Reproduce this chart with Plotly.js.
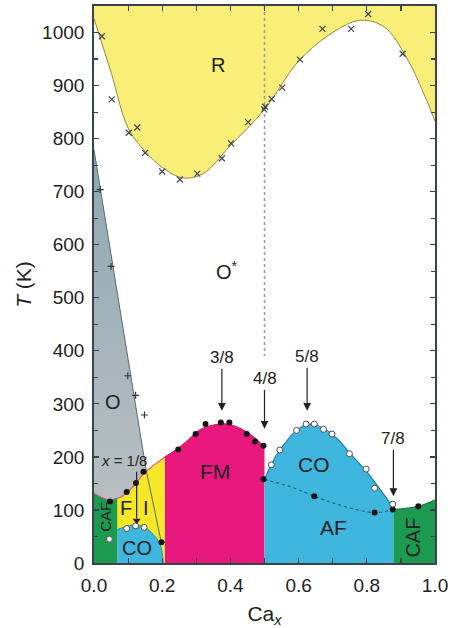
<!DOCTYPE html>
<html>
<head>
<meta charset="utf-8">
<script src="https://cdn.plot.ly/plotly-3.0.1.min.js"></script>
<style>html,body{margin:0;padding:0;background:#fff;}#chart{width:456px;height:628px;}</style>
</head>
<body>
<div id="chart"></div>
<script>
// ---- phase boundaries (Ca fraction x, temperature T in K) ----
const rCurveX = [0, 0.05, 0.1, 0.15, 0.2, 0.26, 0.32, 0.4, 0.5, 0.6, 0.7, 0.78, 0.85, 0.92, 1.0];
const rCurveT = [1026, 925, 820, 776, 746, 726, 734, 787, 855, 946, 1000, 1023, 1011, 949, 833];
const tMax = 1050;

const oRegionX = [0, 0.153, 0.153, 0];
const oRegionT = [779, 175, 110, 110];
const oLineX = [0, 0.153, 0.197];
const oLineT = [779, 175, 40];

const fiTopX = [0, 0.042, 0.07, 0.096, 0.123, 0.145, 0.175, 0.208];
const fiTopT = [131, 119, 122, 132, 150, 168, 184, 200];

const cafLeftX = [0, 0.042, 0.068];
const cafLeftT = [131, 119, 122];

const coLeftX = [0.068, 0.09, 0.12, 0.15, 0.175, 0.192, 0.2, 0.203];
const coLeftT = [63, 68, 72, 67, 53, 38, 20, 0];

const fmX = [0.208, 0.24, 0.272, 0.311, 0.35, 0.389, 0.428, 0.467, 0.5];
const fmT = [200, 213, 229, 251, 260, 262, 254, 238, 218];

const coRightX = [0.5, 0.52, 0.545, 0.594, 0.634, 0.673, 0.72, 0.75, 0.8, 0.84, 0.878];
const coRightT = [158, 186, 213, 250, 262, 254, 230, 207, 172, 138, 104];

const afX = [0.5, 0.575, 0.646, 0.712, 0.823, 0.878];
const afT = [157, 144, 126, 111, 95, 101];

const cafRightX = [0.878, 0.951, 1.0];
const cafRightT = [101, 107, 119];

const halfX = [0.5, 0.5];
const halfT = [1050, 390];

// ---- measured points ----
const crossX = [0.023,0.052,0.102,0.127,0.150,0.200,0.252,0.303,0.375,0.402,0.452,0.499,0.502,0.521,0.552,0.604,0.670,0.754,0.804,0.905];
const crossT = [993,874,811,821,773,738,723,734,763,791,831,855,860,875,896,949,1007,1007,1035,960];
const plusX = [0.018, 0.05, 0.099, 0.122, 0.148];
const plusT = [704, 559, 353, 316, 279];
const dotX = [0.047,0.096,0.123,0.145,0.198,0.247,0.298,0.327,0.372,0.397,0.448,0.472,0.497,0.497,0.646,0.823,0.876,0.951];
const dotT = [116,134,151,172,39,214,243,262,265,265,243,229,221,158,126,95,101,107];
const openX = [0.045,0.096,0.122,0.147,0.52,0.545,0.594,0.622,0.646,0.673,0.698,0.749,0.798,0.823,0.876];
const openT = [45,65,70,67,185,213,250,262,262,252,243,206,177,141,111];

// ---- labels ----
const regionLabels = [
  {t:'R', x:0.364, y:938, s:20},
  {t:'O<sup>*</sup>', x:0.39, y:552, s:20},
  {t:'O', x:0.057, y:303, s:20},
  {t:'F', x:0.094, y:104, s:20},
  {t:'I', x:0.152, y:104, s:20},
  {t:'CO', x:0.126, y:29, s:20},
  {t:'FM', x:0.355, y:172, s:21},
  {t:'CO', x:0.645, y:186, s:21},
  {t:'AF', x:0.702, y:67, s:21},
  {t:'<i>x</i> = 1/8', x:0.088, y:194, s:15}
];
const vertLabels = [
  {t:'CAF', x:0.035, y:87, s:15},
  {t:'CAF', x:0.937, y:47, s:20}
];
// fraction markers: label, x position, label centre T, arrow head T
const fracLabels = ['3/8', '4/8', '5/8', '7/8'];
const fracX = [0.375, 0.5, 0.625, 0.878];
const fracT = [387, 347, 389, 234];
const fracHead = [287, 253, 287, 126];
// x = 1/8 arrow
const eighthX = [0.125, 0.125];
const eighthT = [172, 84];
const eighthHeadT = [80];

const xTickVals = [0, 0.2, 0.4, 0.6, 0.8, 1.0];

const C = {
  rYellow: '#f8ee78', fiYellow: '#f6e828', green: '#1b9a50', pink: '#e8187e',
  blue: '#3eb6de', grayTop: '#8fa8b2', grayBot: '#b9bfc2', ink: '#222222'
};
const FONT = 'Liberation Sans, Arial, sans-serif';

const base = {type:'scatter', mode:'lines', hoverinfo:'skip', showlegend:false};
const traces = [];
traces.push(Object.assign({}, base, {x:[0,1], y:[tMax,tMax], line:{width:0}}));
traces.push(Object.assign({}, base, {x:rCurveX, y:rCurveT, fill:'tonexty', fillcolor:C.rYellow,
  line:{shape:'spline', smoothing:1, color:'#8f8a45', width:1}}));
traces.push(Object.assign({}, base, {x:oRegionX, y:oRegionT, fill:'toself',
  fillgradient:{type:'vertical', colorscale:[[0, C.grayBot],[1, C.grayTop]]},
  fillcolor:C.grayTop, line:{width:0}}));
traces.push(Object.assign({}, base, {x:fiTopX, y:fiTopT, fill:'tozeroy', fillcolor:C.fiYellow,
  line:{shape:'spline', smoothing:1, color:'#d85a78', width:1.2}}));
traces.push(Object.assign({}, base, {x:cafLeftX, y:cafLeftT, fill:'tozeroy', fillcolor:C.green,
  line:{shape:'spline', smoothing:1, color:'#c06070', width:1}}));
traces.push(Object.assign({}, base, {x:coLeftX, y:coLeftT, fill:'tozeroy', fillcolor:C.blue,
  line:{shape:'spline', smoothing:1, color:'#2a90b8', width:1}}));
traces.push(Object.assign({}, base, {x:fmX, y:fmT, fill:'tozeroy', fillcolor:C.pink,
  line:{shape:'spline', smoothing:1, color:'#d0205a', width:1.2}}));
traces.push(Object.assign({}, base, {x:coRightX, y:coRightT, fill:'tozeroy', fillcolor:C.blue,
  line:{shape:'spline', smoothing:1, color:'#1f7fa6', width:1.2}}));
traces.push(Object.assign({}, base, {x:cafRightX, y:cafRightT, fill:'tozeroy', fillcolor:C.green,
  line:{shape:'spline', smoothing:1, color:'#1f6a3e', width:1}}));
traces.push(Object.assign({}, base, {x:afX, y:afT, line:{shape:'spline', smoothing:1, color:'#1d5f80', width:1.2, dash:'dot'}}));
traces.push(Object.assign({}, base, {x:oLineX, y:oLineT, line:{color:'#5a6a70', width:1}}));
traces.push(Object.assign({}, base, {x:halfX, y:halfT, line:{color:'#9a9a9a', width:1.5, dash:'dot'}}));
traces.push(Object.assign({}, base, {x:crossX, y:crossT, mode:'markers',
  marker:{symbol:'x-thin-open', size:6, color:'#3d4652', line:{color:'#3d4652', width:1.2}}}));
traces.push(Object.assign({}, base, {x:plusX, y:plusT, mode:'markers',
  marker:{symbol:'cross-thin-open', size:5, color:'#2d3a40', line:{color:'#2d3a40', width:1.2}}}));
traces.push(Object.assign({}, base, {x:dotX, y:dotT, mode:'markers',
  marker:{symbol:'circle', size:6, color:'#151515'}}));
traces.push(Object.assign({}, base, {x:openX, y:openT, mode:'markers',
  marker:{symbol:'circle', size:6, color:'#ffffff', line:{color:'#505050', width:1}}}));
// x = 1/8 arrow shaft and head
traces.push(Object.assign({}, base, {x:eighthX, y:eighthT, line:{color:C.ink, width:1.2}}));
traces.push(Object.assign({}, base, {x:[eighthX[0]], y:eighthHeadT, mode:'markers',
  marker:{symbol:'triangle-down', size:7, color:C.ink}}));

const annotations = [];
regionLabels.forEach(l => annotations.push({x:l.x, y:l.y, xref:'x', yref:'y', text:l.t, showarrow:false,
  font:{size:l.s, color:C.ink, family:FONT}}));
vertLabels.forEach(l => annotations.push({x:l.x, y:l.y, xref:'x', yref:'y', text:l.t, showarrow:false, textangle:-90,
  font:{size:l.s, color:C.ink, family:FONT}}));
fracLabels.forEach((t,i) => annotations.push({x:fracX[i], y:fracHead[i], ax:fracX[i], ay:fracT[i], axref:'x', ayref:'y',
  xref:'x', yref:'y', text:t, showarrow:true, arrowhead:2, arrowsize:1.3, arrowwidth:1.2, arrowcolor:C.ink, standoff:0,
  font:{size:17, color:C.ink, family:FONT}}));

const axisCommon = {
  showgrid:false, zeroline:false, ticks:'inside', mirror:'ticks', showline:true,
  linecolor:'#3a4448', linewidth:1.8, tickcolor:'#3a4448', ticklen:5, tickwidth:1.2,
  tickfont:{size:19, color:C.ink, family:FONT}
};
const layout = {
  width:456, height:628, paper_bgcolor:'#fff', plot_bgcolor:'#fff',
  margin:{l:94, r:21, t:6, b:65},
  xaxis:Object.assign({}, axisCommon, {range:[0,1], tickvals:xTickVals, tickformat:'.1f',
    minor:{dtick:0.1, ticks:'inside', ticklen:5, tickcolor:'#3a4448'},
    ticklabelstandoff:4,
    title:{text:'Ca<sub><i>x</i></sub>', font:{size:21, color:C.ink, family:FONT}, standoff:14}}),
  yaxis:Object.assign({}, axisCommon, {range:[0,1050], dtick:100, tick0:0,
    minor:{dtick:50, ticks:'inside', ticklen:4, tickcolor:'#3a4448'},
    ticklabelstandoff:4,
    title:{text:'<i>T</i> (K)', font:{size:21, color:C.ink, family:FONT}, standoff:5}}),
  annotations:annotations
};
Plotly.newPlot('chart', traces, layout, {staticPlot:true, displayModeBar:false});
</script>
</body>
</html>
